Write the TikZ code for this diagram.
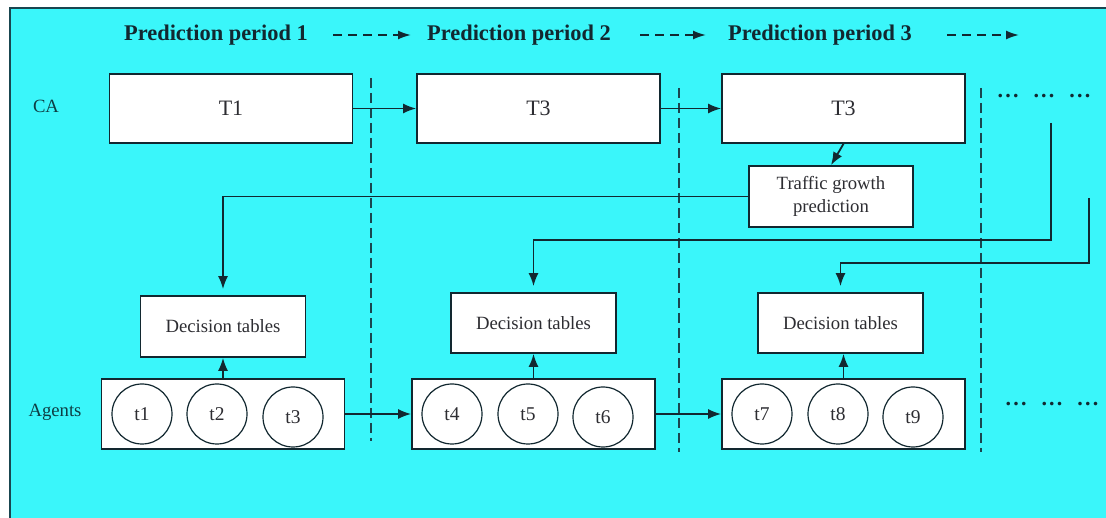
\documentclass[tikz,border=0pt]{standalone}
\usepackage{fontspec}
\setmainfont{Liberation Serif}
\usetikzlibrary{arrows.meta,calc}
\definecolor{bgcyan}{RGB}{58,246,250}
\definecolor{ink}{RGB}{18,40,48}
\definecolor{txt}{RGB}{45,45,50}
\definecolor{framec}{RGB}{25,70,80}
\tikzset{
  box/.style={draw=ink,fill=white,line width=1.7pt,inner sep=0pt,text=txt},
  bigbox/.style={box,minimum width=243pt,minimum height=69pt,font=\fontsize{22}{24}\selectfont},
  smallbox/.style={box,minimum width=165pt,minimum height=61pt,font=\fontsize{18.7}{23}\selectfont,align=center},
  agentbox/.style={box,minimum width=243pt,minimum height=70pt},
  agent/.style={draw=ink,circle,line width=1.2pt,minimum size=60pt,inner sep=0pt,text=txt,font=\fontsize{19.5}{21}\selectfont},
  title/.style={font=\bfseries\fontsize{22.4}{24}\selectfont,text=ink},
  rowlabel/.style={font=\fontsize{18.7}{21}\selectfont,text=ink!75!teal},
  arr/.style={draw=ink,line width=1.8pt,-{Latex[length=13pt,width=10pt]}},
  darr/.style={draw=ink,line width=1.8pt,dash pattern=on 9pt off 6pt,-{Latex[length=13pt,width=9pt]}},
  sep/.style={draw=framec,line width=1.5pt,dash pattern=on 10pt off 5pt},
  dots/.style={font=\bfseries\fontsize{22}{24}\selectfont,text=ink},
}
\newcommand{\tridot}{.\kern2.2pt.\kern2.2pt.}
\begin{document}
\begin{tikzpicture}[x=1pt,y=-1pt]
\useasboundingbox (0,0) rectangle (1106,518);
% background panel
\fill[bgcyan] (10,8) rectangle (1106,518);
\draw[framec,line width=1.8pt] (10,518) -- (10,8) -- (1106,8);

% period titles
\node[title] (P1) at (216,35) {Prediction period 1};
\node[title] (P2) at (519,35) {Prediction period 2};
\node[title] (P3) at (820,35) {Prediction period 3};
\coordinate (a1s) at (333,35); \coordinate (a1e) at (411,35);
\coordinate (a2s) at (640,35); \coordinate (a2e) at (706,35);
\coordinate (a3s) at (947,35); \coordinate (a3e) at (1019,35);
\draw[darr] (a1s) -- (a1e);
\draw[darr] (a2s) -- (a2e);
\draw[darr] (a3s) -- (a3e);

% period separators
\coordinate (s1t) at (371,78);  \coordinate (s1b) at (371,441);
\coordinate (s2t) at (679,88);  \coordinate (s2b) at (679,452);
\coordinate (s3t) at (981,88);  \coordinate (s3b) at (981,452);
\draw[sep] (s1t) -- (s1b);
\draw[sep] (s2t) -- (s2b);
\draw[sep] (s3t) -- (s3b);

% row labels
\node[rowlabel] (CA) at (46,106) {CA};
\node[rowlabel] (AG) at (55,412) {Agents};

% CA level
\node[bigbox] (T1) at (231,108.5) {T1};
\node[bigbox] (T3a) at (538.5,108.5) {T3};
\node[bigbox] (T3b) at (843.5,108.5) {T3};
\node[smallbox,minimum width=164pt] (TG) at (831,196.5) {Traffic growth\\prediction};
\node[dots] (dtop) at (1044,96) {\tridot\hspace{15pt}\tridot\hspace{15pt}\tridot};

% decision tables
\node[smallbox] (DT1) at (223,326.5) {Decision tables};
\node[smallbox,minimum height=60pt] (DT2) at (533.5,323) {Decision tables};
\node[smallbox,minimum height=60pt] (DT3) at (840.5,323) {Decision tables};

% agent groups
\node[agentbox] (A1) at (223,414) {};
\node[agentbox] (A2) at (533.5,414) {};
\node[agentbox] (A3) at (843.5,414) {};
\node[agent] (t1) at (142,414) {t1};
\node[agent] (t2) at (217,414) {t2};
\node[agent] (t3) at (293,417) {t3};
\node[agent] (t4) at (452,414) {t4};
\node[agent] (t5) at (528,414) {t5};
\node[agent] (t6) at (603,417) {t6};
\node[agent] (t7) at (762,414) {t7};
\node[agent] (t8) at (838,414) {t8};
\node[agent] (t9) at (913,417) {t9};
\node[dots] (dbot) at (1052,404) {\tridot\hspace{15pt}\tridot\hspace{15pt}\tridot};

% CA flow
\draw[arr] (T1.east) -- (T3a.west);
\draw[arr] (T3a.east) -- (T3b.west);
\draw[arr] (T3b.south) -- (TG.north);
\draw[arr,shorten >=6pt] (TG.west) -| (DT1.north);
\coordinate (f1) at (1051,123); \coordinate (f1b) at (1051,240);
\coordinate (f2) at (1089,198); \coordinate (f2b) at (1089,263);
\draw[arr,shorten >=6pt] (f1) -- (f1b) -| (DT2.north);
\draw[arr,shorten >=6pt] (f2) -- (f2b) -| (DT3.north);

% agent flow
\draw[arr] (A1.east) -- (A2.west);
\draw[arr] (A2.east) -- (A3.west);
\draw[arr] (A1.north) -- (DT1.south);
\draw[arr] (A2.north) -- (DT2.south);
\draw[arr] (A3.north) -- (A3.north |- DT3.south);
\end{tikzpicture}
\end{document}
